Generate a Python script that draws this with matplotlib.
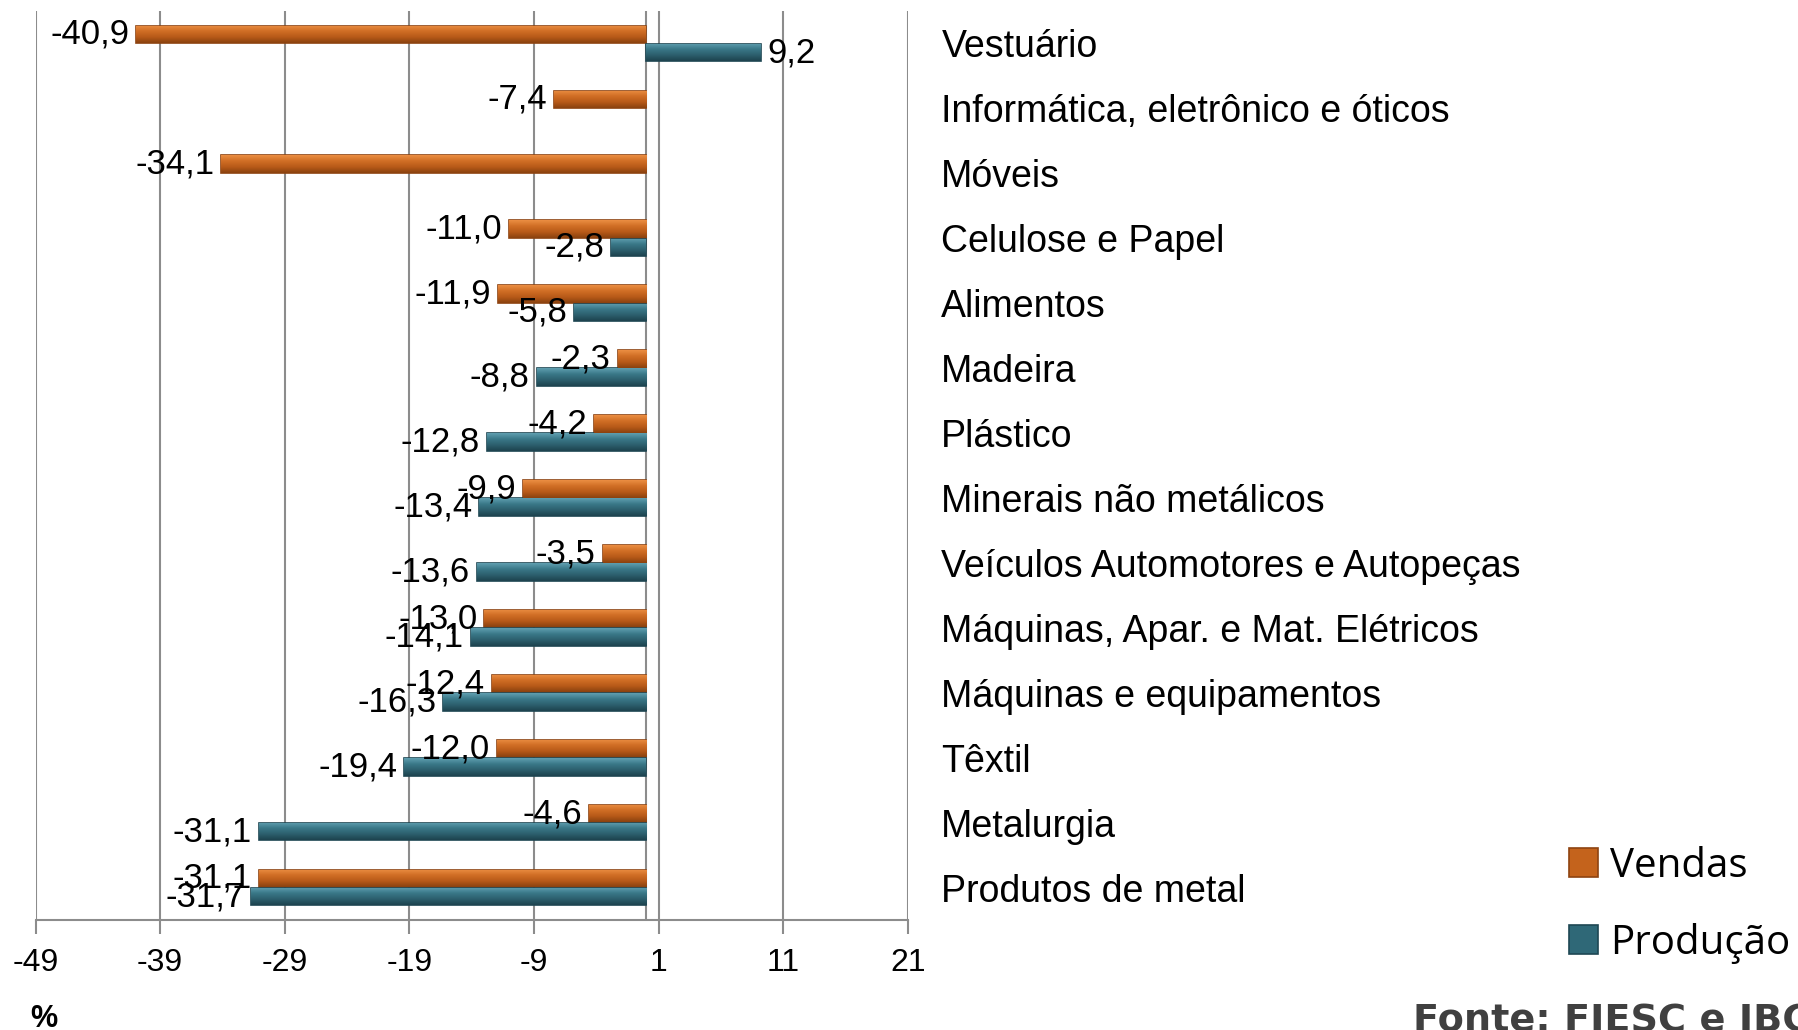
import matplotlib.pyplot as plt
import numpy as np
from matplotlib.colors import LinearSegmentedColormap

plt.rcParams['font.family'] = ['Liberation Sans', 'DejaVu Sans']

categories = [
    "Vestuário",
    "Informática, eletrônico e óticos",
    "Móveis",
    "Celulose e Papel",
    "Alimentos",
    "Madeira",
    "Plástico",
    "Minerais não metálicos",
    "Veículos Automotores e Autopeças",
    "Máquinas, Apar. e Mat. Elétricos",
    "Máquinas e equipamentos",
    "Têxtil",
    "Metalurgia",
    "Produtos de metal",
]
vendas = [-40.9, -7.4, -34.1, -11.0, -11.9, -2.3, -4.2, -9.9, -3.5, -13.0, -12.4, -12.0, -4.6, -31.1]
producao = [9.2, None, None, -2.8, -5.8, -8.8, -12.8, -13.4, -13.6, -14.1, -16.3, -19.4, -31.1, -31.7]
xticks = [-49, -39, -29, -19, -9, 1, 11, 21]

orange = '#C4631C'
orange_edge = '#8E4310'
teal = '#2F6877'
teal_edge = '#1E4753'
grid_c = '#8C8C8C'

# light top -> dark bottom, like the bevelled bars of the original
cmap_or = LinearSegmentedColormap.from_list('or', ['#EB8E42', '#D06E25', '#B85A18', '#8A420F'])
cmap_te = LinearSegmentedColormap.from_list('te', ['#5F9EAF', '#3A7888', '#2C5F6D', '#1D434E'])

fig = plt.figure(figsize=(17.98, 10.30), dpi=100)
ax = fig.add_axes([35.5 / 1798, 1 - 920 / 1030, (908 - 35.5) / 1798, (920 - 11) / 1030])

y = np.arange(len(categories))
h = 0.27
off = 0.14


def fmt(v):
    return f"{v:.1f}".replace('.', ',')


series = [(vendas, -off, orange, orange_edge, cmap_or, 'Vendas'),
          (producao, off, teal, teal_edge, cmap_te, 'Produção')]
handles = []
grad = np.linspace(0, 1, 64).reshape(-1, 1)
for vals, dy, col, ecol, cm, lab in series:
    yy = [yi + dy for yi, v in zip(y, vals) if v is not None]
    vv = [v for v in vals if v is not None]
    bars = ax.barh(yy, vv, height=h, color=col, edgecolor=ecol, linewidth=1.2,
                   zorder=3, label=lab)
    handles.append(bars)
    for b in bars:
        x0, y0 = b.get_x(), b.get_y()
        im = ax.imshow(grad, extent=[x0, x0 + b.get_width(), y0 + b.get_height(), y0],
                       cmap=cm, aspect='auto', zorder=3.5, interpolation='bilinear')
        im.set_clip_path(b)
    for yi, v in zip(yy, vv):
        ax.annotate(fmt(v), (v, yi), xytext=(-5 if v < 0 else 5, 0),
                    textcoords='offset points', va='center',
                    ha='right' if v < 0 else 'left', fontsize=25, zorder=4)

ax.set_xlim(-49, 21)
ax.set_ylim(len(categories) - 0.5, -0.5)
ax.set_xticks(xticks)
ax.set_xticklabels([str(t) for t in xticks], fontsize=23)
ax.xaxis.grid(True, color=grid_c, linewidth=1.5, zorder=0)
ax.axvline(0, color=grid_c, linewidth=1.5, zorder=1)

ax.yaxis.tick_right()
ax.set_yticks(y)
ax.set_yticklabels(categories, fontsize=27)
ax.tick_params(axis='y', length=0, pad=24)
ax.tick_params(axis='x', length=10, width=1.5, color=grid_c, pad=10)

for s in ['top', 'left', 'right']:
    ax.spines[s].set_visible(False)
ax.spines['bottom'].set_color(grid_c)
ax.spines['bottom'].set_linewidth(1.5)

fig.legend(handles=handles, loc='center left', bbox_to_anchor=(1533 / 1798, 1 - 905 / 1030),
           frameon=False, prop={'family': 'Open Sans', 'size': 29},
           handlelength=0.72, handleheight=0.72, handletextpad=0.3, labelspacing=0.9)

fig.text(30 / 1798, 1 - 1004 / 1030, '%', fontsize=22, fontweight='bold', va='top')
fig.text(1413 / 1798, 1 - 1003 / 1030, 'Fonte: FIESC e IBGE', fontsize=27.5,
         fontweight='heavy', family='DejaVu Sans', color='#404040', va='top')

fig.savefig('out.png', dpi=100)
